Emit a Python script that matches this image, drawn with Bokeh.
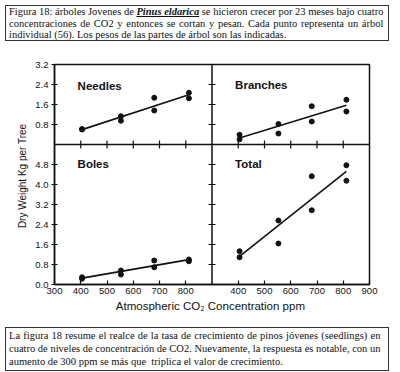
import math
import numpy as np
from bokeh.plotting import figure
from bokeh.models import Range1d, LinearAxis, FixedTicker, Span, Label, Div
from bokeh.layouts import column
from bokeh.embed import file_html
from bokeh.resources import INLINE

# ---- data ----
co2 = [405, 405, 553, 553, 680, 680, 812, 812]
needles = [0.60, 0.62, 1.13, 0.95, 1.87, 1.36, 2.07, 1.85]
branches = [0.39, 0.21, 0.82, 0.44, 1.53, 0.92, 1.79, 1.32]
boles = [0.29, 0.23, 0.56, 0.40, 0.96, 0.69, 1.00, 0.93]
total = [1.33, 1.09, 2.56, 1.64, 4.33, 2.97, 4.77, 4.15]

panel_names = ["Needles", "Branches", "Boles", "Total"]

x_min, x_max = 300, 900
x_inner_ticks = [400, 500, 600, 700, 800]
x_labels_left = [300, 400, 500, 600, 700, 800]
x_labels_right = [400, 500, 600, 700, 800, 900]
top_max = 3.2
bottom_max = 5.6
y_ticks_top = [0.8, 1.6, 2.4, 3.2]
y_ticks_bottom = [0.0, 0.8, 1.6, 2.4, 3.2, 4.0, 4.8]

top_lines = [
    'Figura 18: árboles Jovenes de <b><i><u>Pinus eldarica</u></i></b> se hicieron crecer por 23 meses bajo cuatro',
    'concentraciones de CO2 y entonces se cortan y pesan. Cada punto representa un árbol',
    'individual (56). Los pesos de las partes de árbol son las indicadas.',
]
bottom_lines = [
    'La figura 18 resume el realce de la tasa de crecimiento de pinos jóvenes (seedlings) en',
    'cuatro de niveles de concentración de CO2. Nuevamente, la respuesta es notable, con un',
    'aumento de 300 ppm se más que&nbsp; triplica el valor de crecimiento.',
]

FONT = "Liberation Sans"
INK = "#111111"

span_x = x_max - x_min
p = figure(frame_width=315, frame_height=220,
           min_border_left=54, min_border_right=15, min_border_top=18, min_border_bottom=38,
           x_range=Range1d(x_min, x_max + span_x),
           y_range=Range1d(0, bottom_max + top_max),
           x_axis_type=None, y_axis_type=None,
           output_backend="svg", toolbar_location=None)
p.extra_x_ranges = {"right": Range1d(x_min - span_x, x_max)}
p.extra_y_ranges = {"top": Range1d(-bottom_max, top_max)}
p.grid.visible = False
p.outline_line_color = INK
p.outline_line_width = 1.5
p.background_fill_color = "white"
p.border_fill_color = "white"

# bottom axis: left panel labels + right panel labels (shifted by one panel width)
xt_pos = list(x_labels_left) + [v + span_x for v in x_labels_right]
xt_lab = [str(v) for v in x_labels_left] + [str(v) for v in x_labels_right]
xaxis = LinearAxis(ticker=FixedTicker(ticks=xt_pos, minor_ticks=[]),
                   major_label_overrides={k: s for k, s in zip(xt_pos, xt_lab)},
                   axis_label="Atmospheric CO\u2082 Concentration  ppm")
xaxis.major_tick_in = 4
xaxis.major_tick_out = 0
xaxis.major_label_standoff = 3
xaxis.axis_label_standoff = 3
p.add_layout(xaxis, "below")

yt_pos = list(y_ticks_bottom) + [t + bottom_max for t in y_ticks_top]
yt_lab = [f"{t:.1f}" for t in y_ticks_bottom] + [f"{t:.1f}" for t in y_ticks_top]
yaxis = LinearAxis(ticker=FixedTicker(ticks=yt_pos, minor_ticks=[]),
                   major_label_overrides={k: s for k, s in zip(yt_pos, yt_lab)},
                   axis_label="Dry Weight  Kg per Tree")
yaxis.major_tick_in = 3
yaxis.major_tick_out = 3
yaxis.major_label_standoff = 3
yaxis.axis_label_standoff = 4
p.add_layout(yaxis, "left")

for ax in (xaxis, yaxis):
    ax.axis_line_color = INK
    ax.axis_line_width = 1.5
    ax.major_tick_line_color = INK
    ax.major_tick_line_width = 1.2
    ax.major_label_text_font = FONT
    ax.major_label_text_font_size = "9.5px"
    ax.major_label_text_color = INK
    ax.axis_label_text_font = FONT
    ax.axis_label_text_font_style = "normal"
    ax.axis_label_text_color = INK
xaxis.axis_label_text_font_size = "11.5px"
yaxis.axis_label_text_font_size = "10px"

# panel dividers
p.add_layout(Span(location=x_max, dimension="height", line_color=INK, line_width=1.5))
p.add_layout(Span(location=bottom_max, dimension="width", line_color=INK, line_width=1.5))

# crossing ticks on the dividers
n = len(x_inner_ticks)
p.scatter(x_inner_ticks, [0] * n, y_range_name="top", marker="dash", angle=math.pi / 2,
          size=8, line_color=INK, line_width=1.2)
p.scatter(x_inner_ticks, [0] * n, x_range_name="right", y_range_name="top", marker="dash",
          angle=math.pi / 2, size=8, line_color=INK, line_width=1.2)
p.scatter([x_min] * len(y_ticks_top), y_ticks_top, x_range_name="right", y_range_name="top",
          marker="dash", size=7, line_color=INK, line_width=1.2)
p.scatter([x_min] * (len(y_ticks_bottom) - 1), y_ticks_bottom[1:], x_range_name="right",
          marker="dash", size=7, line_color=INK, line_width=1.2)

panels = [
    (needles, "default", "top", panel_names[0], 2.36),
    (branches, "right", "top", panel_names[1], 2.39),
    (boles, "default", "default", panel_names[2], 4.81),
    (total, "right", "default", panel_names[3], 4.83),
]
for vals, xr, yr, name, ly in panels:
    p.scatter(co2, vals, x_range_name=xr, y_range_name=yr, size=5,
              fill_color=INK, line_color=INK)
    slope, icpt = np.polyfit(co2, vals, 1)
    xs = [min(co2), max(co2)]
    ys = [slope * v + icpt for v in xs]
    p.line(xs, ys, x_range_name=xr, y_range_name=yr, line_color=INK, line_width=1.6)
    p.add_layout(Label(x=388, y=ly, x_range_name=xr, y_range_name=yr, text=name,
                       text_font=FONT, text_font_style="bold", text_font_size="11.5px",
                       text_color=INK, text_baseline="middle", text_align="left"))


def box_html(lines, pad_top, lh):
    parts = []
    for i, ln in enumerate(lines):
        last = (i == len(lines) - 1)
        al = "text-align:left" if last else "text-align:justify;text-align-last:justify"
        parts.append(f'<div style="{al}">{ln}</div>')
    return (f'<div style="font-family:\'Liberation Serif\';font-size:10.5px;line-height:{lh}px;'
            f'color:#111;padding:{pad_top}px 3px 0 3px;">' + "".join(parts) + "</div>")


top_div = Div(text=box_html(top_lines, 0, 11.5), width=384, height=36,
              styles={"border": "1px solid #333", "box-sizing": "border-box", "overflow": "hidden"})
bottom_div = Div(text=box_html(bottom_lines, 1, 13), width=384, height=44,
                 styles={"border": "1px solid #333", "box-sizing": "border-box", "overflow": "hidden"})

layout = column(top_div, p, bottom_div, spacing=0)
open("out.html", "w").write(file_html(layout, INLINE))
